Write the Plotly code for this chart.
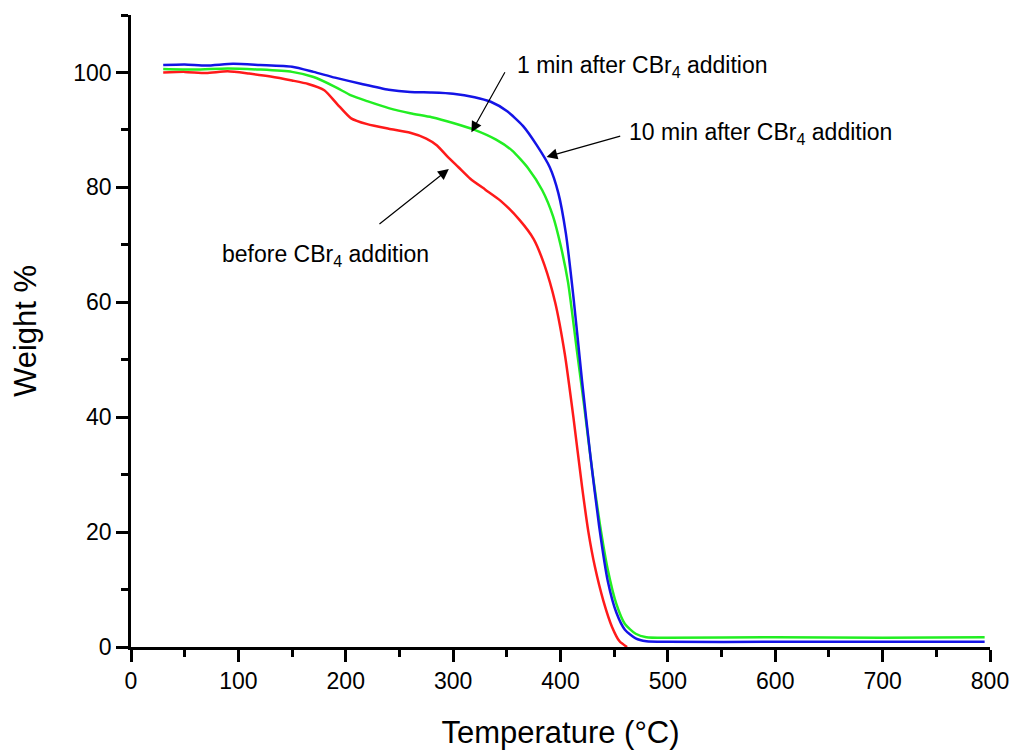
import plotly.graph_objects as go

# Data (Temperature °C, Weight %)
red_T = [30, 50, 70, 90, 110, 130, 150, 165, 180, 192, 205, 220, 240, 260, 275, 285, 295, 305, 316, 330, 344, 362, 375, 385, 395, 404, 412, 420, 426, 432, 440, 448, 455, 462]
red_W = [100, 100.1, 99.9, 100.2, 99.8, 99.3, 98.6, 98.0, 96.9, 94.5, 92.0, 91.0, 90.2, 89.5, 88.5, 87.3, 85.3, 83.5, 81.5, 79.6, 77.7, 74.3, 71.0, 66.5, 60.0, 51.0, 40.0, 28.0, 20.0, 14.0, 8.0, 3.5, 1.0, 0.0]

green_T = [30, 60, 90, 120, 150, 170, 190, 205, 220, 240, 260, 280, 300, 320, 340, 355, 370, 383, 393, 400, 407, 415, 422, 430, 437, 444, 452, 460, 470, 480, 500, 600, 700, 795]
green_W = [100.6, 100.5, 100.7, 100.5, 100.1, 99.2, 97.5, 96.0, 95.0, 93.8, 92.9, 92.2, 91.2, 90.0, 88.3, 86.4, 83.3, 79.5, 75.0, 70.0, 63.5, 52.0, 42.0, 30.0, 21.0, 13.5, 7.5, 4.0, 2.3, 1.7, 1.6, 1.7, 1.6, 1.7]

blue_T = [30, 50, 70, 95, 120, 150, 170, 190, 215, 240, 260, 280, 300, 320, 335, 350, 365, 378, 390, 398, 405, 412, 420, 428, 436, 444, 452, 460, 470, 480, 500, 600, 700, 795]
blue_W = [101.3, 101.4, 101.2, 101.5, 101.3, 101.0, 100.1, 99.1, 98.0, 97.0, 96.6, 96.5, 96.3, 95.7, 94.9, 93.3, 90.7, 87.3, 83.5, 79.0, 72.0, 61.0, 46.4, 33.0, 21.0, 11.5, 6.0, 3.0, 1.5, 1.0, 0.9, 0.9, 0.9, 0.9]

x_ticks = [0, 100, 200, 300, 400, 500, 600, 700, 800]
y_ticks = [0, 20, 40, 60, 80, 100]

fig = go.Figure()
for T, W, c in [(red_T, red_W, "#ff1a1a"), (green_T, green_W, "#22ee22"), (blue_T, blue_W, "#1414e6")]:
    fig.add_trace(go.Scatter(x=T, y=W, mode="lines",
                             line=dict(color=c, width=2.5, shape="spline", smoothing=0.6),
                             showlegend=False, hoverinfo="skip"))

font = "Liberation Sans, Arial, sans-serif"
ann_font = dict(family=font, size=23, color="black")

# arrows (head at x,y ; tail at ax,ay in data coords)
arrows = [((317, 89.6), (349, 100.3)),
          ((387, 85.3), (457, 89.0)),
          ((296, 83.2), (230, 73.4))]
for (hx, hy), (tx, ty) in arrows:
    fig.add_annotation(x=hx, y=hy, ax=tx, ay=ty, xref="x", yref="y", axref="x", ayref="y",
                       text="", showarrow=True, arrowhead=2, arrowsize=1.8, arrowwidth=1.2,
                       arrowcolor="black")

labels = [("1 min after CBr<sub>4</sub> addition", 357.5, 101.0),
          ("10 min after CBr<sub>4</sub> addition", 462, 89.4),
          ("before CBr<sub>4</sub> addition", 83, 68.2)]
for txt, x, y in labels:
    fig.add_annotation(x=x, y=y, xref="x", yref="y", text=txt, showarrow=False,
                       xanchor="left", yanchor="middle", font=ann_font)

axis_common = dict(showline=True, linecolor="black", linewidth=2.5, ticks="outside",
                   ticklen=12, tickwidth=2.5, tickcolor="black", showgrid=False, zeroline=False,
                   automargin=False,
                   tickfont=dict(family=font, size=23, color="black"))

fig.update_xaxes(range=[0, 800], tickvals=x_ticks, ticktext=[str(v) for v in x_ticks],
                 minor=dict(ticks="outside", ticklen=7, tickwidth=2.5, tickcolor="black", dtick=50, tick0=0),
                 title=dict(text="Temperature (°C)", font=dict(family=font, size=31, color="black"), standoff=28),
                 **axis_common)
fig.update_yaxes(range=[0, 110], tickvals=y_ticks, ticktext=[str(v) for v in y_ticks],
                 minor=dict(ticks="outside", ticklen=7, tickwidth=2.5, tickcolor="black", dtick=10, tick0=0),
                 title=dict(text="Weight %", font=dict(family=font, size=31, color="black"), standoff=28),
                 **axis_common)

fig.update_layout(width=1014, height=751, margin=dict(l=131, r=24, t=15, b=104),
                  plot_bgcolor="white", paper_bgcolor="white")

fig.write_html("out.html")
